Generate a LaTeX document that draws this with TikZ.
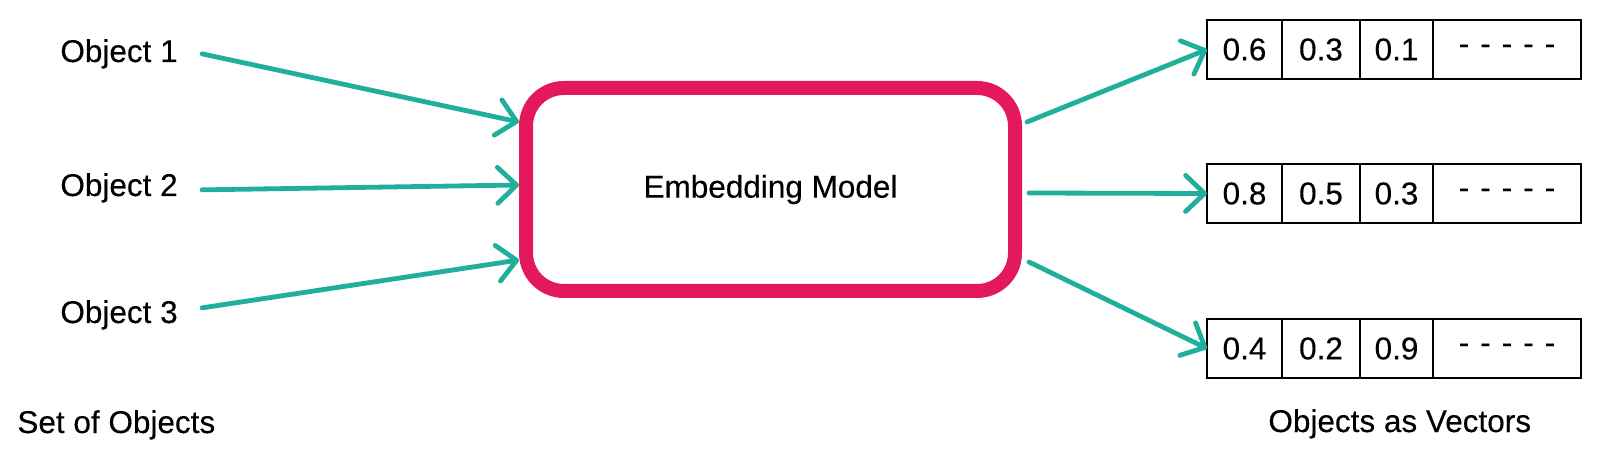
\documentclass[tikz,border=0pt]{standalone}
\usepackage{fontspec}
\setmainfont{Liberation Sans}[FakeBold=0.25]
\usetikzlibrary{arrows.meta}
\definecolor{teal1}{HTML}{1FAF9A}
\definecolor{pink1}{HTML}{E3195C}
\begin{document}
\begin{tikzpicture}[x=0.5pt,y=-0.5pt,
  every node/.style={font=\fontsize{15.75pt}{18pt}\selectfont, inner sep=0pt},
  lbl/.style={anchor=base west},
  model/.style={draw=pink1, line width=7pt, rounded corners=19pt, minimum width=244.5pt, minimum height=101.5pt},
  cell/.style={draw=black, line width=1.3pt, outer sep=0pt, minimum height=29.5pt},
  flow/.style={draw=teal1, line width=2.4pt, line cap=round, -{Straight Barb[length=9.5pt,width=18pt,round]}}
]
\useasboundingbox (0,0) rectangle (1600,459);

\node[lbl] (o1) at (60,62) {Object 1};
\node[lbl] (o2) at (60,196) {Object 2};
\node[lbl] (o3) at (60,323) {Object 3};
\node[lbl] (s1) at (17,433) {Set of Objects};
\node[lbl] (s2) at (1268,432) {Objects as Vectors};

\node[model] (emb) at (770.5,189.5) {Embedding Model};

\foreach \r/\y/\a/\b/\c in {1/49.5/0.6/0.3/0.1, 2/193.5/0.8/0.5/0.3, 3/348.5/0.4/0.2/0.9} {
  \node[cell, minimum width=37.5pt] (v\r a) at (1244.5,\y) {\a};
  \node[cell, minimum width=39pt] (v\r b) at (1321,\y) {\b};
  \node[cell, minimum width=36.5pt] (v\r c) at (1396.5,\y) {\c};
  \node[cell, minimum width=74pt] (v\r d) at (1507,\y) {-\hspace{5.5pt}-\hspace{5.5pt}-\hspace{5.5pt}-\hspace{5.5pt}-};
}

\draw[flow] ([xshift=12pt]o1.east) -- ([yshift=33.75pt]emb.west);
\draw[flow] ([xshift=12pt,yshift=-1pt]o2.east) -- ([yshift=2.25pt]emb.west);
\draw[flow] ([xshift=12pt,yshift=3.5pt]o3.east) -- ([yshift=-35.25pt]emb.west);

\draw[flow] ([xshift=2.5pt,yshift=33.75pt]emb.east) -- (v1a.west);
\draw[flow] ([xshift=3.5pt,yshift=-1.75pt]emb.east) -- (v2a.west);
\draw[flow] ([xshift=3.5pt,yshift=-36.25pt]emb.east) -- (v3a.west);
\end{tikzpicture}
\end{document}
